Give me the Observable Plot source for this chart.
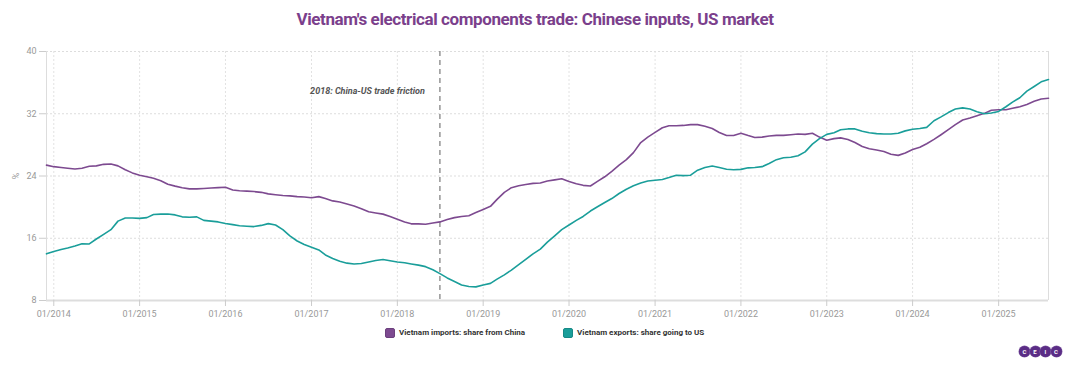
<!DOCTYPE html>
<html><head><meta charset="utf-8">
<script src="https://cdn.jsdelivr.net/npm/d3@7"></script>
<script src="https://cdn.jsdelivr.net/npm/@observablehq/plot@0.6"></script>
<style>
body{margin:0;background:#fff;font-family:Roboto,sans-serif;width:1070px;height:366px;position:relative;overflow:hidden}
#title{position:absolute;top:8px;left:0;width:1070px;text-align:center;font-size:17px;font-weight:700;color:#7b3f8c;line-height:22px;letter-spacing:-0.4px}
#chart{position:absolute;top:40px;left:0}
#legend{position:absolute;top:327px;left:385px;display:flex;gap:38px;font-size:8px;font-weight:700;color:#333;line-height:12px}
#legend .item{display:flex;align-items:center}
#legend .sw{width:10px;height:10px;border-radius:2px;margin-right:4px;box-sizing:border-box}
#logo{position:absolute;top:346px;left:1019px;display:flex}
#logo span{width:11px;height:11px;border-radius:50%;background:#5b2d86;color:#fff;font-size:6px;font-weight:700;display:flex;align-items:center;justify-content:center;margin-right:-0.5px;box-shadow:0 0 0 0.5px #8a6aaa}
</style></head>
<body>
<div id="title"></div>
<div id="chart"></div>
<div id="legend"></div>
<div id="logo"><span>C</span><span>E</span><span>I</span><span>C</span></div>
<script>
const titleText = "Vietnam's electrical components trade: Chinese inputs, US market";
const seriesNames = ["Vietnam imports: share from China", "Vietnam exports: share going to US"];
const seriesColors = ["#7d4a90", "#1a9e9a"];
const annotationText = "2018: China-US trade friction";
const eventMonth = "2018-07-01";
const startMonth = "2013-12-01";
const yTicks = [8, 16, 24, 32, 40];
const tickYears = [2014, 2015, 2016, 2017, 2018, 2019, 2020, 2021, 2022, 2023, 2024, 2025];
const yLabel = "%";

// Monthly values, Dec 2013 - Aug 2025
const chinaShare = [
 25.4,25.2,25.1,25.0,24.9,25.0,25.25,25.3,25.5,25.55,25.3,24.8,
 24.4,24.1,23.9,23.7,23.4,22.95,22.7,22.5,22.35,22.35,22.4,22.45,
 22.5,22.55,22.2,22.1,22.05,22.0,21.9,21.7,21.6,21.5,21.45,21.35,
 21.3,21.2,21.35,21.1,20.8,20.65,20.4,20.15,19.8,19.4,19.25,19.1,
 18.8,18.45,18.1,17.85,17.85,17.8,17.95,18.1,18.4,18.65,18.8,18.9,
 19.3,19.7,20.1,21.0,21.9,22.5,22.75,22.9,23.05,23.1,23.35,23.5,
 23.65,23.3,23.0,22.8,22.72,23.3,23.9,24.6,25.4,26.1,27.0,28.3,
 29.0,29.6,30.2,30.46,30.46,30.5,30.6,30.6,30.4,30.1,29.6,29.2,
 29.2,29.5,29.2,28.95,29.0,29.15,29.22,29.22,29.3,29.39,29.35,29.5,
 29.0,28.6,28.8,28.9,28.7,28.3,27.8,27.5,27.35,27.15,26.8,26.65,
 26.95,27.4,27.7,28.15,28.7,29.3,29.95,30.6,31.2,31.45,31.75,32.05,
 32.45,32.52,32.52,32.7,32.9,33.2,33.6,33.9,34.0
];
const usShare = [
 14.0,14.3,14.55,14.75,15.0,15.3,15.27,15.9,16.5,17.1,18.2,18.6,
 18.6,18.55,18.65,19.05,19.1,19.12,19.0,18.75,18.7,18.75,18.3,18.2,
 18.1,17.9,17.75,17.6,17.55,17.5,17.65,17.88,17.7,17.1,16.3,15.65,
 15.2,14.85,14.5,13.85,13.4,13.05,12.8,12.7,12.75,12.95,13.15,13.26,
 13.1,12.95,12.85,12.7,12.55,12.35,11.95,11.45,10.9,10.45,10.0,9.8,
 9.75,10.0,10.2,10.75,11.3,11.9,12.6,13.3,14.0,14.6,15.5,16.3,
 17.1,17.7,18.3,18.8,19.5,20.05,20.6,21.1,21.75,22.3,22.75,23.1,
 23.35,23.45,23.55,23.8,24.1,24.05,24.1,24.75,25.1,25.28,25.1,24.86,
 24.8,24.85,25.05,25.1,25.2,25.6,26.1,26.35,26.4,26.6,27.1,28.1,
 28.8,29.35,29.55,29.95,30.05,30.05,29.75,29.55,29.45,29.4,29.4,29.5,
 29.8,30.0,30.1,30.25,31.1,31.6,32.15,32.6,32.75,32.6,32.25,32.0,
 32.1,32.3,32.9,33.5,34.06,34.9,35.5,36.1,36.4
];

document.getElementById("title").textContent = titleText;

const start = new Date(startMonth);
const dates = chinaShare.map((_, i) => d3.utcMonth.offset(start, i));
const data = [
  ...chinaShare.map((v, i) => ({date: dates[i], value: v, series: seriesNames[0]})),
  ...usShare.map((v, i) => ({date: dates[i], value: v, series: seriesNames[1]}))
];
const yearTicks = tickYears.map(y => new Date(Date.UTC(y, 0, 1)));
const ev = new Date(eventMonth);

const chart = Plot.plot({
  width: 1070, height: 285,
  marginTop: 11, marginBottom: 25, marginLeft: 46, marginRight: 22,
  style: {fontFamily: "Roboto, sans-serif", fontSize: "9px", color: "#999", background: "#fff"},
  x: {type: "utc", domain: [dates[0], dates[dates.length - 1]]},
  y: {domain: [8, 40]},
  color: {domain: seriesNames, range: seriesColors},
  marks: [
    Plot.gridY(yTicks, {stroke: "#ddd", strokeOpacity: 1, strokeDasharray: "2,2"}),
    Plot.gridX(yearTicks, {stroke: "#e2e2e2", strokeOpacity: 1, strokeDasharray: "2,2"}),
    Plot.ruleX([dates[0]], {stroke: "#ddd"}),
    Plot.ruleX([dates[dates.length - 1]], {stroke: "#ddd"}),
    Plot.ruleY([8], {stroke: "#ddd", strokeWidth: 2}),
    Plot.axisY(yTicks, {tickSize: 7, tickPadding: 3, stroke: "#ccc", label: yLabel, labelAnchor: "center", labelArrow: "none", labelOffset: 34}),
    Plot.axisX(yearTicks, {tickSize: 6, tickPadding: 4, stroke: "#ccc", tickFormat: d3.utcFormat("%m/%Y"), label: null}),
    Plot.ruleX([ev], {stroke: "#7a7a7a", strokeDasharray: "5,4", strokeWidth: 1.2}),
    Plot.text([{d: ev, v: 34.9}], {x: "d", y: "v", text: () => annotationText, dx: -15, textAnchor: "end", fontStyle: "italic", fontWeight: 700, fill: "#555", fontSize: 9}),
    Plot.line(data, {x: "date", y: "value", stroke: "series", strokeWidth: 1.6, curve: "linear"})
  ]
});
document.getElementById("chart").appendChild(chart);

const legend = document.getElementById("legend");
seriesNames.forEach((name, i) => {
  const item = document.createElement("div");
  item.className = "item";
  const sw = document.createElement("div");
  sw.className = "sw";
  sw.style.background = seriesColors[i];
  sw.style.border = "1px solid " + d3.color(seriesColors[i]).darker(0.4);
  const t = document.createElement("span");
  t.textContent = name;
  item.appendChild(sw); item.appendChild(t);
  legend.appendChild(item);
});
</script>
</body></html>
